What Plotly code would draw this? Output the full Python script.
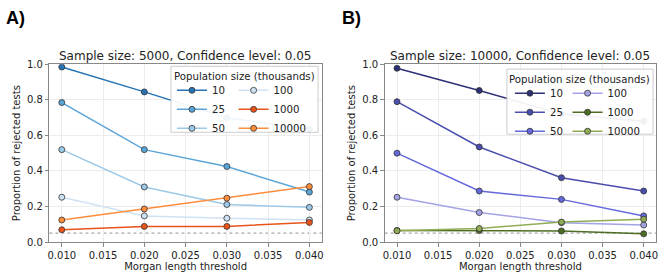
import plotly.graph_objects as go

thresholds = [0.010, 0.020, 0.030, 0.040]
pop_labels = ["10", "25", "50", "100", "1000", "10000"]

# Panel A: sample size 5000
a_vals = {
    "10": [0.985, 0.845, 0.700, 0.635],
    "25": [0.785, 0.520, 0.425, 0.281],
    "50": [0.520, 0.310, 0.211, 0.195],
    "100": [0.252, 0.147, 0.134, 0.124],
    "1000": [0.069, 0.088, 0.088, 0.110],
    "10000": [0.124, 0.186, 0.247, 0.312],
}
# Panel B: sample size 10000
b_vals = {
    "10": [0.978, 0.853, 0.720, 0.680],
    "25": [0.790, 0.535, 0.362, 0.287],
    "50": [0.500, 0.287, 0.240, 0.147],
    "100": [0.252, 0.166, 0.109, 0.096],
    "1000": [0.065, 0.065, 0.062, 0.046],
    "10000": [0.063, 0.076, 0.112, 0.128],
}
a_colors = ["#2674b5", "#5aa5d8", "#9cc9e8", "#cfe2f3", "#e8541a", "#fc8d3d"]
b_colors = ["#2d3075", "#4a4fae", "#6468dc", "#a3a3e6", "#4d6e22", "#90ad55"]
ref_level = 0.05
titles = ["Sample size: 5000, Confidence level: 0.05",
          "Sample size: 10000, Confidence level: 0.05"]
legend_title = "Population size (thousands)"

W, H = 663, 277
FONT = "DejaVu Sans"

def px(x):
    return x / W

def py(y):
    return 1 - y / H

# panel geometry (pixels, top-left origin)
panels = [
    dict(x0=47.7, x1=321.7, box=(170, 63, 318, 132), col_x=(171, 233), row1=85, lt_y=73.5),
    dict(x0=385.0, x1=658.0, box=(508, 66, 655, 134), col_x=(511, 569), row1=88, lt_y=76.5),
]
y_top, y_bot = 61.0, 246.7

fig = go.Figure()
shapes, annotations = [], []
legend_layouts = {}
for pi, (vals, cols) in enumerate([(a_vals, a_colors), (b_vals, b_colors)]):
    xa = "x" if pi == 0 else "x2"
    ya = "y" if pi == 0 else "y2"
    for li, lab in enumerate(pop_labels):
        leg_idx = pi * 2 + (0 if li < 3 else 1)
        leg = "legend" if leg_idx == 0 else f"legend{leg_idx + 1}"
        c = cols[li]
        fig.add_trace(go.Scatter(
            x=thresholds, y=vals[lab], mode="lines+markers", name=lab,
            line=dict(color=c, width=1.5),
            marker=dict(color=c, size=6, line=dict(color="#333333", width=0.8)),
            xaxis=xa, yaxis=ya, legend=leg))
    p = panels[pi]
    shapes.append(dict(type="line", xref=f"{xa} domain", yref=ya, x0=0, x1=1,
                       y0=ref_level, y1=ref_level,
                       line=dict(color="#a8a8a8", width=1.3, dash="dot"), layer="below"))
    bx0, by0, bx1, by1 = p["box"]
    shapes.append(dict(type="rect", xref="paper", yref="paper",
                       x0=px(bx0), x1=px(bx1), y0=py(by1), y1=py(by0),
                       fillcolor="rgba(255,255,255,0.93)",
                       line=dict(color="#cccccc", width=1), layer="above"))
    annotations.append(dict(text=legend_title, xref="paper", yref="paper",
                            x=px((bx0 + bx1) / 2), y=py(p["lt_y"]),
                            xanchor="center", yanchor="middle", showarrow=False,
                            font=dict(family=FONT, size=10.2, color="#222")))
    annotations.append(dict(text=titles[pi], xref="paper", yref="paper",
                            x=px((p["x0"] + p["x1"]) / 2), y=py(52),
                            xanchor="center", yanchor="middle", showarrow=False,
                            font=dict(family=FONT, size=12, color="#222")))
    for ci in range(2):
        leg_idx = pi * 2 + ci
        key = "legend" if leg_idx == 0 else f"legend{leg_idx + 1}"
        legend_layouts[key] = dict(
            x=px(p["col_x"][ci]), y=py(p["row1"] - 12), xanchor="left", yanchor="top",
            orientation="v", bgcolor="rgba(0,0,0,0)", borderwidth=0,
            itemwidth=30, font=dict(family=FONT, size=10.2, color="#222"))

annotations += [
    dict(text="<b>A)</b>", xref="paper", yref="paper", x=px(2), y=py(12.5),
         xanchor="left", yanchor="middle", showarrow=False,
         font=dict(family="Liberation Sans", size=18, color="black")),
    dict(text="<b>B)</b>", xref="paper", yref="paper", x=px(340), y=py(12.5),
         xanchor="left", yanchor="middle", showarrow=False,
         font=dict(family="Liberation Sans", size=18, color="black")),
]

axis_common = dict(showline=True, mirror=True, linecolor="#888888", linewidth=1,
                   ticks="outside", ticklen=3.5, tickcolor="#888888",
                   showgrid=True, gridcolor="#ececec", gridwidth=1, zeroline=False,
                   tickfont=dict(family=FONT, size=10, color="#222"))
xt = [0.010, 0.015, 0.020, 0.025, 0.030, 0.035, 0.040]
xlay = dict(axis_common, range=[0.0085, 0.0415], tickvals=xt,
            ticktext=[f"{v:.3f}" for v in xt],
            title=dict(text="Morgan length threshold", standoff=3,
                       font=dict(family=FONT, size=10, color="#222")))
ylay = dict(axis_common, range=[0, 1.0], tickvals=[0, 0.2, 0.4, 0.6, 0.8, 1.0],
            ticktext=["0.0", "0.2", "0.4", "0.6", "0.8", "1.0"],
            title=dict(text="Proportion of rejected tests", standoff=4,
                       font=dict(family=FONT, size=10, color="#222")))

yd = [py(y_bot), py(y_top)]
fig.update_layout(
    width=W, height=H, margin=dict(l=0, r=0, t=0, b=0),
    paper_bgcolor="white", plot_bgcolor="white",
    xaxis=dict(xlay, domain=[px(panels[0]["x0"]), px(panels[0]["x1"])], anchor="y"),
    yaxis=dict(ylay, domain=yd, anchor="x"),
    xaxis2=dict(xlay, domain=[px(panels[1]["x0"]), px(panels[1]["x1"])], anchor="y2"),
    yaxis2=dict(ylay, domain=yd, anchor="x2"),
    shapes=shapes, annotations=annotations,
    **legend_layouts,
)

fig.write_html("out.html", config={"displayModeBar": False},
               post_script="document.body.style.margin='0';")
